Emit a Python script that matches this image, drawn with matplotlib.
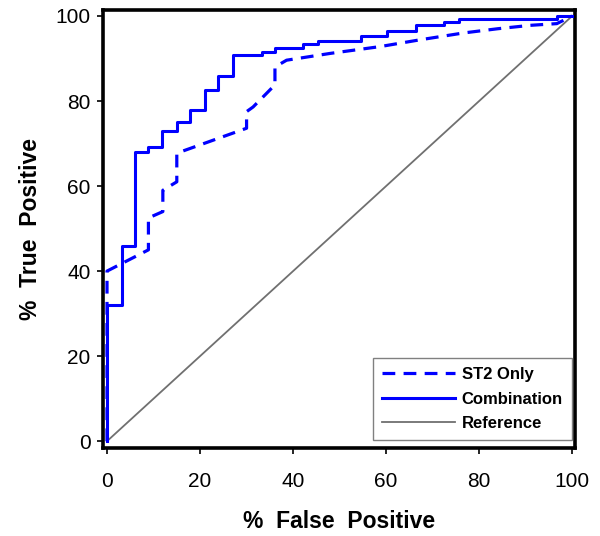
import matplotlib
matplotlib.use("Agg")
import matplotlib.pyplot as plt

plt.rcParams['font.family'] = ['Liberation Sans', 'DejaVu Sans']

# Combination ROC curve (false positive %, true positive %)
comb_fpr = [0, 0, 3.2, 3.2, 6.0, 6.0, 8.8, 8.8, 11.8, 11.8, 15.0, 15.0, 17.8, 17.8,
            21.0, 21.0, 23.9, 23.9, 27.1, 27.1, 33.3, 33.3, 36.1, 36.1, 42.2, 42.2,
            45.4, 45.4, 54.6, 54.6, 60.2, 60.2, 66.4, 66.4, 72.5, 72.5, 75.7, 75.7,
            96.7, 96.7, 100]
comb_tpr = [0, 32, 32, 46, 46, 68, 68, 69.2, 69.2, 73, 73, 75, 75, 78,
            78, 82.6, 82.6, 86, 86, 90.8, 90.8, 91.5, 91.5, 92.4, 92.4, 93.4,
            93.4, 94.2, 94.2, 95.2, 95.2, 96.4, 96.4, 97.8, 97.8, 98.6, 98.6, 99.3,
            99.3, 100, 100]

# ST2 Only ROC curve
st2_fpr = [0, 0, 8.9, 8.9, 12.0, 12.0, 15.0, 15.0, 15.7, 30.0, 30.0, 31.4, 36.1,
           36.1, 38.6, 48.0, 58.7, 67.3, 76.6, 84.0, 91.0, 96.7, 100]
st2_tpr = [0, 40, 45, 52.5, 54, 59, 61, 67.7, 68, 73.6, 77.5, 78.6, 83.8,
           88, 89.6, 91.2, 92.8, 94.4, 96.0, 97.0, 97.8, 98.2, 100]

ref_x = [0, 100]
ref_y = [0, 100]

ticks = [0, 20, 40, 60, 80, 100]

fig = plt.figure(figsize=(6.0, 5.36), dpi=100)
ax = fig.add_axes([0.1717, 0.1642, 0.9583 - 0.1717, 0.9813 - 0.1642])

blue = '#0000ff'
ax.plot(ref_x, ref_y, color='#707070', lw=1.3, label='Reference', zorder=2)
ax.plot(st2_fpr, st2_tpr, color=blue, lw=2.3, dashes=(4, 2.6), label='ST2 Only', zorder=3)
ax.plot(comb_fpr, comb_tpr, color=blue, lw=2.2, label='Combination', zorder=4)

ax.set_xlim(-0.86, 100.6)
ax.set_ylim(-1.6, 101.4)
ax.set_xticks(ticks)
ax.set_yticks(ticks)
ax.set_xticklabels([str(t) for t in ticks])
ax.set_yticklabels([str(t) for t in ticks])
ax.tick_params(axis='both', direction='out', length=4, width=1.2, labelsize=15,
               colors='black')
ax.tick_params(axis='x', pad=13)
ax.tick_params(axis='y', pad=5)
for s in ax.spines.values():
    s.set_linewidth(2.6)
    s.set_color('black')

ax.set_xlabel('%  False  Positive', fontsize=16.5, fontweight='bold', labelpad=14)
ax.set_ylabel('%  True  Positive', fontsize=16.5, fontweight='bold', labelpad=10)

handles, labels = ax.get_legend_handles_labels()
order = [1, 2, 0]
leg = ax.legend([handles[i] for i in order], [labels[i] for i in order],
                loc='lower right', bbox_to_anchor=(0.994, 0.018), borderaxespad=0,
                fancybox=False, frameon=True, edgecolor='#606060',
                prop={'weight': 'bold', 'size': 12}, handlelength=4.4,
                handletextpad=0.4, labelspacing=0.56, borderpad=0.55)
leg.get_frame().set_linewidth(1.0)

fig.savefig('out.png', dpi=100)
